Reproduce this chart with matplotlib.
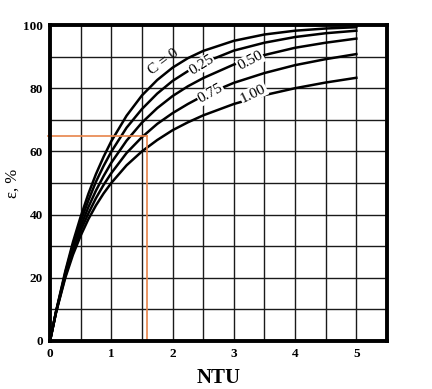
import matplotlib
matplotlib.use("Agg")
import matplotlib.pyplot as plt
import numpy as np

# values (effectiveness in %, vs NTU)
ntu = [0, 0.1, 0.25, 0.375, 0.5, 0.625, 0.75, 0.875, 1.0, 1.25, 1.5, 1.75, 2.0, 2.25, 2.5, 3.0, 3.5, 4.0, 4.5, 5.0]
eff_c000 = [0, 9.5, 22.1, 31.3, 39.3, 46.5, 52.8, 58.3, 63.2, 71.3, 77.7, 82.6, 86.5, 89.5, 91.8, 95.0, 97.0, 98.2, 98.9, 99.3]
eff_c025 = [0, 9.3, 21.6, 30.4, 37.8, 44.4, 50.4, 55.4, 59.9, 67.5, 73.4, 78.3, 82.3, 85.4, 88.0, 91.9, 94.4, 96.2, 97.4, 98.2]
eff_c050 = [0, 9.3, 21.1, 29.3, 36.2, 42.3, 47.6, 52.2, 56.4, 63.4, 69.1, 73.7, 77.5, 80.6, 83.2, 87.5, 90.5, 92.8, 94.4, 95.7]
eff_c075 = [0, 9.2, 20.5, 28.3, 34.9, 40.3, 45.2, 49.4, 53.1, 59.5, 64.5, 68.7, 72.1, 75.0, 77.6, 81.7, 84.8, 87.3, 89.2, 90.8]
eff_c100 = [0, 9.1, 20.0, 27.3, 33.3, 38.5, 42.9, 46.7, 50.0, 55.6, 60.0, 63.6, 66.7, 69.2, 71.4, 75.0, 77.8, 80.0, 81.8, 83.3]
curves = [eff_c000, eff_c025, eff_c050, eff_c075, eff_c100]

labels = ["C = 0", "0.25", "0.50", "0.75", "1.00"]
label_x = [1.85, 2.47, 3.27, 2.62, 3.32]
label_y = [88.2, 87.3, 88.6, 78.3, 78.3]
label_rot = [37, 32, 28, 29, 26]

xticks = [0, 1, 2, 3, 4, 5]
yticks = [0, 20, 40, 60, 80, 100]
read_ntu = 1.58
read_eff = 65

serif = ["Liberation Serif", "DejaVu Serif"]

fig = plt.figure(figsize=(4.32, 3.89), dpi=100)
ax = fig.add_axes([0.1157, 0.1234, 0.7801, 0.8123])
ax.set_xlim(0, 5.5)
ax.set_ylim(0, 100)

# grid
for gx in np.arange(0.5, 5.01, 0.5):
    ax.axvline(gx, color="#1a1a1a", lw=1.0, zorder=1)
for gy in np.arange(10, 91, 10):
    ax.axhline(gy, color="#1a1a1a", lw=1.0, zorder=1)

for eff in curves:
    ax.plot(ntu, eff, color="black", lw=1.8, zorder=3)

for i, lab in enumerate(labels):
    bbox = None if i == 0 else dict(facecolor="white", edgecolor="none", pad=0.5)
    ax.text(label_x[i], label_y[i], lab, rotation=label_rot[i], ha="center", va="center",
            fontsize=11, family=serif, bbox=bbox, zorder=4)

# orange reading lines
ax.plot([-0.03, read_ntu], [read_eff, read_eff], color="#e8844a", lw=1.2, zorder=5, clip_on=False)
ax.plot([read_ntu, read_ntu], [0, read_eff], color="#e8844a", lw=1.2, zorder=5)

for s in ax.spines.values():
    s.set_linewidth(2.8)
    s.set_zorder(6)

ax.set_xticks(xticks)
ax.set_yticks(yticks)
ax.tick_params(length=0, pad=5)
for t in ax.get_xticklabels() + ax.get_yticklabels():
    t.set_fontfamily(serif)
    t.set_fontweight("bold")
    t.set_fontsize(9.5)

ax.set_xlabel("NTU", fontsize=15, fontweight="bold", family=serif, labelpad=6)
ax.set_ylabel("ε, %", fontsize=12, family=serif, labelpad=2)

fig.savefig("out.png", dpi=100)
